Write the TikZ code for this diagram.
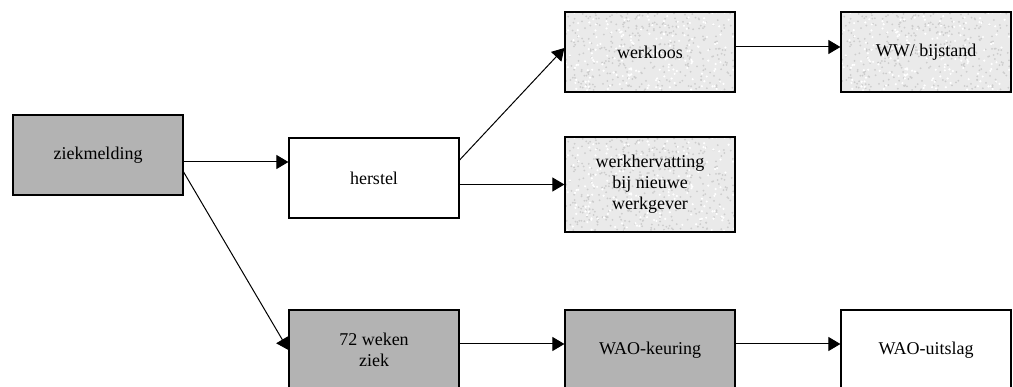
\documentclass[tikz,border=0pt]{standalone}
\usepackage{fontspec}
\setmainfont{Liberation Serif}
\usetikzlibrary{arrows.meta,calc}
\definecolor{boxdark}{RGB}{179,179,179}
\definecolor{boxlight}{RGB}{234,234,234}
\definecolor{speckdark}{RGB}{205,205,205}
\begin{document}
\begin{tikzpicture}[x=1pt,y=-1pt,
  box/.style={draw=black,line width=1.2pt,rectangle,minimum width=170pt,minimum height=80pt,
    inner sep=2pt,align=center,font=\fontsize{18}{20.8}\selectfont},
  darkbox/.style={box,fill=boxdark},
  whitebox/.style={box,fill=white},
  grainbox/.style={box,fill=boxlight,
    path picture={
      \pgfmathsetseed{7}
      \foreach \k in {1,...,450}{
        \pgfmathsetmacro\rx{rnd}\pgfmathsetmacro\ry{rnd}
        \fill[speckdark] ($(path picture bounding box.north west)!\rx!(path picture bounding box.north east)+(0,\ry*96)$) circle (1.0);
      }
      \foreach \k in {1,...,220}{
        \pgfmathsetmacro\rx{rnd}\pgfmathsetmacro\ry{rnd}
        \fill[white] ($(path picture bounding box.north west)!\rx!(path picture bounding box.north east)+(0,\ry*96)$) circle (1.2);
      }
    }},
  arr/.style={line width=1pt,-{Triangle[length=12pt,width=14pt]}}
]
\useasboundingbox (0,0) rectangle (1013,387);

% boxes
\node[darkbox]  (ziek)    at (98,155)    {ziekmelding};
\node[whitebox] (herstel) at (374,178)   {herstel};
\node[grainbox] (werkl)   at (650,52)    {werkloos};
\node[grainbox] (ww)      at (926,52)    {WW/ bijstand};
\node[grainbox,minimum height=95pt] (hervat) at (650,184.5)
  {werkhervatting\\bij nieuwe\\werkgever};
\node[darkbox]  (ziek72)  at (374,350)   {72 weken\\ziek};
\node[darkbox]  (keuring) at (650,350)   {WAO-keuring};
\node[whitebox] (uitslag) at (926,350)   {WAO-uitslag};

% connectors
\draw[arr] ([yshift=-7pt]ziek.east) -- ([yshift=-7pt]ziek.east -| herstel.west);
\draw[arr] ([yshift=-17pt]ziek.east) -- (ziek72.west);
\draw[arr] ([yshift=18pt]herstel.east) -- ([yshift=4pt]werkl.west);
\draw[arr] (herstel.east |- hervat.west) -- (hervat.west);
\draw[arr] ([yshift=5pt]werkl.east) -- ([yshift=5pt]ww.west);
\draw[arr] ([yshift=6pt]ziek72.east) -- ([yshift=6pt]keuring.west);
\draw[arr] ([yshift=6pt]keuring.east) -- ([yshift=6pt]uitslag.west);
\end{tikzpicture}
\end{document}
